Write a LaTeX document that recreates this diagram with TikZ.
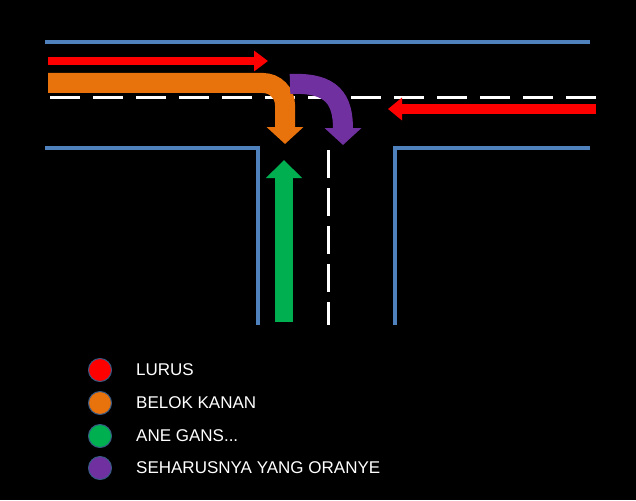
\documentclass[tikz,border=0pt]{standalone}
\usepackage{fontspec}
\setmainfont{Liberation Sans}
\usetikzlibrary{arrows.meta}
\definecolor{road}{HTML}{4F81BD}
\definecolor{cred}{HTML}{FF0000}
\definecolor{corange}{HTML}{E8720C}
\definecolor{cgreen}{HTML}{00B050}
\definecolor{cpurple}{HTML}{7030A0}
\tikzset{
  edge/.style={road, line width=4pt},
  lane/.style={white, line width=3pt, dash pattern=on 30pt off 13pt},
  dot/.style={circle, minimum size=23pt, inner sep=0pt, draw=road!70!black, line width=1pt},
  lbl/.style={white, anchor=west, font=\fontsize{17}{20}\selectfont, inner sep=0pt}
}
\begin{document}
\begin{tikzpicture}[x=1pt,y=-1pt]
\fill[black] (0,0) rectangle (636,500);
\useasboundingbox (0,0) rectangle (636,500);
% road edges
\coordinate (t1) at (45,42); \coordinate (t2) at (590,42);
\draw[edge] (t1) -- (t2);
\coordinate (l1) at (45,148); \coordinate (l2) at (258,148); \coordinate (l3) at (258,325);
\draw[edge] (l1) -- (l2) -- (l3);
\coordinate (r1) at (590,148); \coordinate (r2) at (395,148); \coordinate (r3) at (395,325);
\draw[edge] (r1) -- (r2) -- (r3);
% lane markings
\coordinate (d1) at (50,98); \coordinate (d2) at (600,98);
\draw[lane] (d1) -- (d2);
\coordinate (v1) at (328,150); \coordinate (v2) at (328,325);
\draw[lane, dash pattern=on 28pt off 10pt] (v1) -- (v2);
% red straight arrows
\coordinate (ra1) at (48,61); \coordinate (ra2) at (268,61);
\draw[cred, line width=8pt, -{Triangle[width=20pt,length=14pt]}] (ra1) -- (ra2);
\coordinate (rb1) at (596,109); \coordinate (rb2) at (388,109);
\draw[cred, line width=9pt, -{Triangle[width=22pt,length=14pt]}] (rb1) -- (rb2);
% orange turn
\coordinate (o1) at (48,83); \coordinate (o2) at (285,144);
\draw[corange, line width=20pt, rounded corners=22pt, -{Triangle[width=36pt,length=17pt]}] (o1) -| (o2);
% purple
\coordinate (p1) at (290,84); \coordinate (p2) at (343,145);
\draw[cpurple, line width=20pt, -{Triangle[width=36pt,length=17pt]}] (p1) .. controls (333,82) and (343,100) .. (p2);
% green
\coordinate (g1) at (284,322); \coordinate (g2) at (284,160);
\draw[cgreen, line width=18pt, -{Triangle[width=35pt,length=18pt]}] (g1) -- (g2);
% legend
\node[dot, fill=cred] (k1) at (100,370) {};
\node[dot, fill=corange] (k2) at (100,403) {};
\node[dot, fill=cgreen] (k3) at (100,436) {};
\node[dot, fill=cpurple] (k4) at (100,468) {};
\node[lbl] (t1l) at (136,370) {LURUS};
\node[lbl] (t2l) at (136,403) {BELOK KANAN};
\node[lbl] (t3l) at (136,436) {ANE GANS...};
\node[lbl] (t4l) at (136,468) {SEHARUSNYA YANG ORANYE};
\end{tikzpicture}
\end{document}
